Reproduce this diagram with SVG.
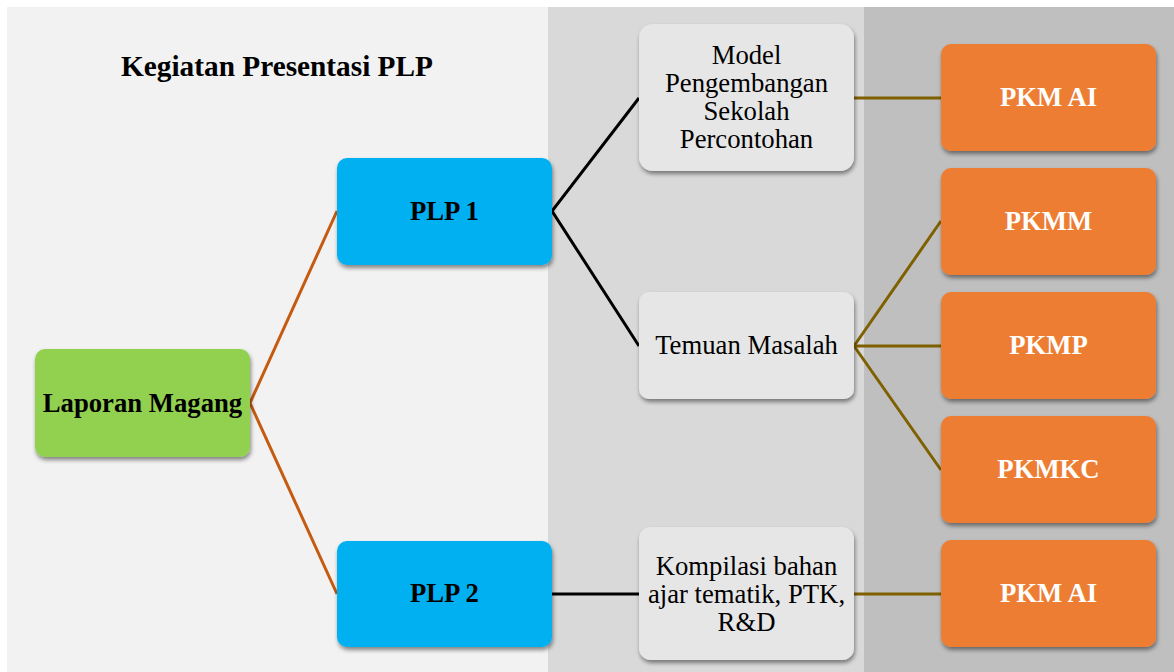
<svg xmlns="http://www.w3.org/2000/svg" width="1174" height="672" viewBox="0 0 1174 672">
<style>
.t{font-family:"Liberation Serif","Times New Roman",serif;font-size:26.7px;text-anchor:middle;dominant-baseline:central}
.b{font-weight:bold}
.w{fill:#ffffff}
.ttl{font-size:29.3px}
.box{filter:url(#sh)}
.c1{stroke:#c55a11;stroke-width:3;fill:none}
.c2{stroke:#000000;stroke-width:3;fill:none}
.c3{stroke:#7f6000;stroke-width:3;fill:none}
</style>
<defs>
<filter id="sh" x="-10%" y="-10%" width="130%" height="140%">
<feDropShadow dx="1" dy="3" stdDeviation="2" flood-color="#000" flood-opacity="0.45"/>
</filter>
</defs>
<rect x="0" y="0" width="1174" height="672" fill="#ffffff"/>
<rect x="7" y="7" width="541" height="665" fill="#f2f2f2"/>
<rect x="548" y="7" width="316" height="665" fill="#d9d9d9"/>
<rect x="864" y="7" width="310" height="665" fill="#bfbfbf"/>
<text class="t b ttl" x="277" y="66">Kegiatan Presentasi PLP</text>
<g id="connectors">
<polyline class="c1" points="337,211 250,403 337,594"/>
<polyline class="c2" points="639,98 552,211 639,346"/>
<line class="c2" x1="552" y1="594" x2="639" y2="594"/>
<line class="c3" x1="854" y1="98" x2="941" y2="98"/>
<line class="c3" x1="854" y1="346" x2="941" y2="221"/>
<line class="c3" x1="854" y1="346" x2="941" y2="346"/>
<line class="c3" x1="854" y1="346" x2="941" y2="470"/>
<line class="c3" x1="854" y1="594" x2="941" y2="594"/>
</g>
<g id="laporan"><rect class="box" x="35" y="349" width="215" height="108" rx="10" fill="#92d050"/><text class="t b" x="142.5" y="403">Laporan Magang</text></g>
<g id="plp1"><rect class="box" x="337" y="158" width="215" height="107" rx="10" fill="#00b0f0"/><text class="t b" x="444.5" y="211">PLP 1</text></g>
<g id="plp2"><rect class="box" x="337" y="541" width="215" height="106" rx="10" fill="#00b0f0"/><text class="t b" x="444.5" y="593">PLP 2</text></g>
<g id="model"><rect class="box" x="639" y="24" width="215" height="147" rx="14" fill="#e6e6e6"/><text class="t" x="746.5" y="55">Model</text><text class="t" x="746.5" y="83">Pengembangan</text><text class="t" x="746.5" y="111">Sekolah</text><text class="t" x="746.5" y="139">Percontohan</text></g>
<g id="temuan"><rect class="box" x="639" y="292" width="215" height="107" rx="10" fill="#e6e6e6"/><text class="t" x="746.5" y="345">Temuan Masalah</text></g>
<g id="kompilasi"><rect class="box" x="639" y="527" width="215" height="133" rx="12" fill="#e6e6e6"/><text class="t" x="746.5" y="566">Kompilasi bahan</text><text class="t" x="746.5" y="594">ajar tematik, PTK,</text><text class="t" x="746.5" y="622">R&amp;D</text></g>
<g id="pkmai1"><rect class="box" x="941" y="44" width="215" height="107" rx="10" fill="#ed7d31"/><text class="t b w" x="1048.5" y="97">PKM AI</text></g>
<g id="pkmm"><rect class="box" x="941" y="168" width="215" height="107" rx="10" fill="#ed7d31"/><text class="t b w" x="1048.5" y="221">PKMM</text></g>
<g id="pkmp"><rect class="box" x="941" y="292" width="215" height="107" rx="10" fill="#ed7d31"/><text class="t b w" x="1048.5" y="345">PKMP</text></g>
<g id="pkmkc"><rect class="box" x="941" y="416" width="215" height="107" rx="10" fill="#ed7d31"/><text class="t b w" x="1048.5" y="469">PKMKC</text></g>
<g id="pkmai2"><rect class="box" x="941" y="540" width="215" height="107" rx="10" fill="#ed7d31"/><text class="t b w" x="1048.5" y="593">PKM AI</text></g>
</svg>
